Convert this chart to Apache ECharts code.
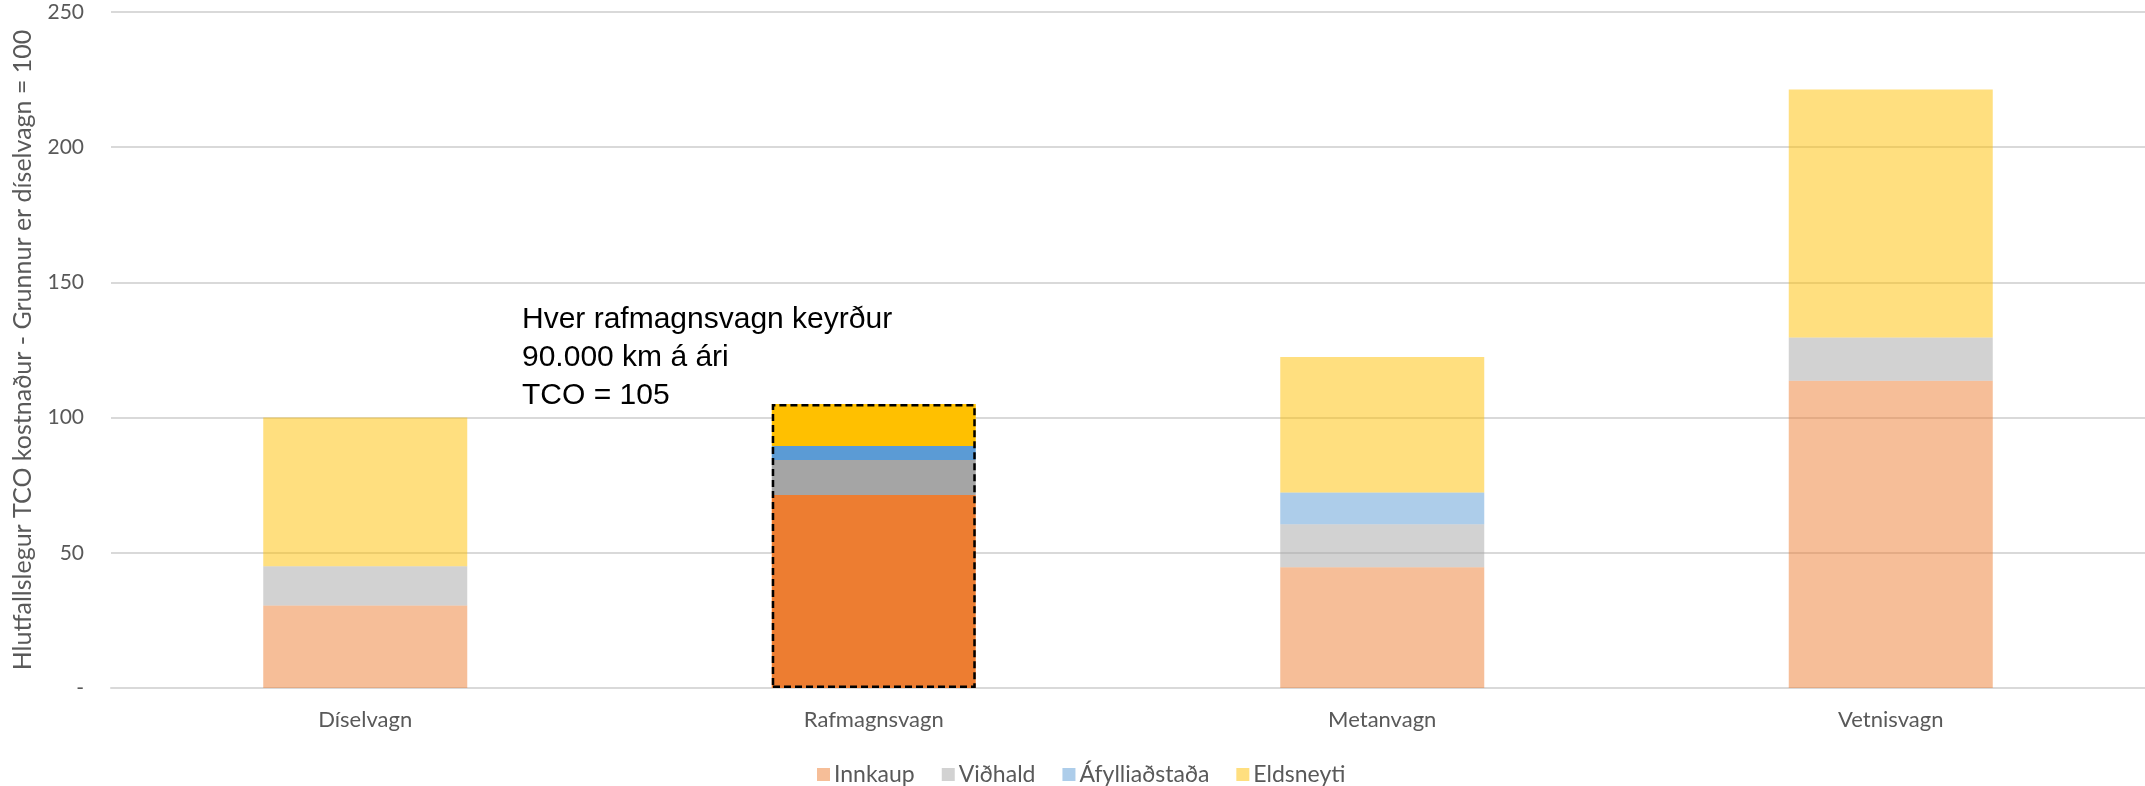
<!DOCTYPE html>
<html>
<head>
<meta charset="utf-8">
<script src="https://cdn.jsdelivr.net/npm/echarts@6/dist/echarts.min.js"></script>
<style>
	html, body { margin: 0; padding: 0; background: #fff; }
	#tco_chart { width: 2145px; height: 786px; }
</style>
</head>
<body>
<div id="tco_chart"></div>
<script>
	// gildi lesin af myndinni
	var categories = ['Díselvagn', 'Rafmagnsvagn', 'Metanvagn', 'Vetnisvagn']
	var innkaup = [30.5, 71.4, 44.7, 113.6]
	var vidhald = [14.5, 12.9, 15.9, 16.0]
	var afylling = [0, 5.2, 11.7, 0]
	var eldsneyti = [55.0, 15.5, 50.1, 91.7]
	var seriesNames = ['Innkaup', 'Viðhald', 'Áfylliaðstaða', 'Eldsneyti']
	var yTicks = [0, 50, 100, 150, 200, 250]
	var noteLines = ['Hver rafmagnsvagn keyrður', '90.000 km á ári', 'TCO = 105']
	var highlightIndex = 1

	var colors = ['#ED7D31', '#A5A5A5', '#5B9BD5', '#FFC000']
	var textColor = '#595959'
	var gridColor = '#D9D9D9'
	var font = 'Lato, "Open Sans", sans-serif'

	var tcoChart = echarts.init(document.getElementById('tco_chart'))

	function stackSeries(name, values, color){
		return {
			name: name,
			type: 'bar',
			stack: 'tco',
			barWidth: 204,
			itemStyle: {
				color: color,
				opacity: 0.5
			},
			data: values.map(function(v, i){
				if (i === highlightIndex) {
					return { value: v, itemStyle: { opacity: 1 } }
				}
				return v
			})
		}
	}

	function getOption(){
		var allValues = [innkaup, vidhald, afylling, eldsneyti]
		var series = allValues.map(function(values, i){
			return stackSeries(seriesNames[i], values, colors[i])
		})

		// strikaður rammi utan um rafmagnsvagninn
		var total = 0
		allValues.forEach(function(values){ total += values[highlightIndex] })
		series.push({
			name: 'outline',
			type: 'bar',
			barWidth: 204,
			barGap: '-100%',
			z: 5,
			silent: true,
			itemStyle: {
				color: 'rgba(0,0,0,0)',
				borderColor: '#000',
				borderWidth: 2.5,
				borderType: [7, 4]
			},
			data: categories.map(function(c, i){
				return i === highlightIndex ? Math.round(total * 10) / 10 : '-'
			})
		})

		return {
			backgroundColor: '#fff',
			animation: false,
			textStyle: { fontFamily: font },
			grid: {
				left: 111,
				right: 0,
				top: 12,
				bottom: 98
			},
			legend: {
				data: seriesNames,
				left: 812,
				top: 758,
				icon: 'rect',
				itemWidth: 13,
				itemHeight: 13,
				itemGap: 27,
				textStyle: {
					color: textColor,
					fontSize: 23,
					fontFamily: font,
					padding: [0, 0, 0, -1]
				}
			},
			xAxis: {
				type: 'category',
				data: categories,
				axisTick: { show: false },
				axisLine: {
					lineStyle: { color: gridColor, width: 2 }
				},
				axisLabel: {
					color: textColor,
					fontSize: 22,
					fontFamily: font,
					margin: 21
				}
			},
			yAxis: {
				type: 'value',
				min: yTicks[0],
				max: yTicks[yTicks.length - 1],
				interval: yTicks[1] - yTicks[0],
				name: 'Hlutfallslegur TCO kostnaður - Grunnur er díselvagn = 100',
				nameLocation: 'middle',
				nameRotate: 90,
				nameGap: 76,
				nameTextStyle: {
					color: textColor,
					fontSize: 25,
					fontFamily: font
				},
				axisLine: { show: false },
				axisTick: { show: false },
				axisLabel: {
					color: textColor,
					fontSize: 21,
					fontFamily: font,
					margin: 27,
					formatter: function(v){
						return v === 0 ? '-' : String(v)
					}
				},
				splitLine: {
					lineStyle: { color: gridColor, width: 2 }
				}
			},
			graphic: [{
				type: 'text',
				left: 522,
				top: 301,
				z: 10,
				style: {
					text: noteLines.join('\n'),
					fill: '#000',
					font: '30px "Liberation Sans", Arial, sans-serif',
					lineHeight: 38
				}
			}],
			series: series
		}
	}

	tcoChart.setOption(getOption())
</script>
</body>
</html>
